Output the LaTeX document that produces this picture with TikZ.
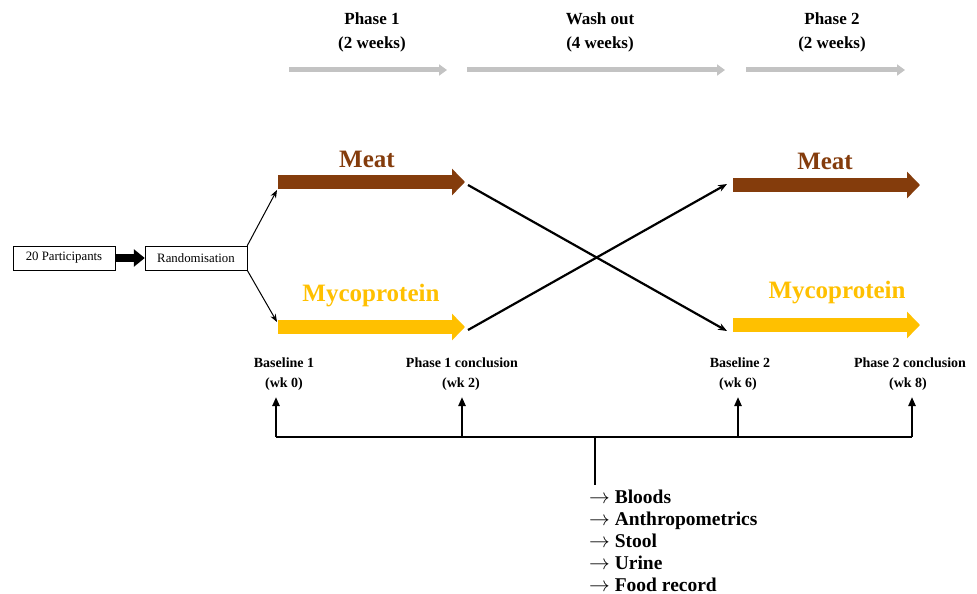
\documentclass[tikz,border=0pt]{standalone}
\usepackage{fontspec}
\setmainfont{Liberation Serif}
\usetikzlibrary{arrows.meta,positioning}
\definecolor{meatbrown}{HTML}{843C0C}
\definecolor{mycogold}{HTML}{FFC000}
\definecolor{phasegrey}{HTML}{C3C3C3}

\begin{document}
\begin{tikzpicture}[x=1pt, y=-1pt,
    box/.style={draw, rectangle, minimum width=102pt, minimum height=24pt, inner sep=0pt, font=\fontsize{12.8}{14}\selectfont},
    phase/.style={align=center, font=\fontsize{17}{24}\selectfont\bfseries},
    arm/.style={font=\fontsize{25}{28}\selectfont\bfseries},
    point/.style={font=\fontsize{14}{16}\selectfont\bfseries},
    period/.style={-{Triangle[length=8pt, width=11pt]}, line width=5pt, draw=phasegrey},
    bar/.style={-{Triangle[length=13pt, width=26pt]}, line width=14pt},
    edge/.style={-{Stealth[length=8pt, width=6pt]}, line width=1pt},
    cross/.style={-{Stealth[length=9pt, width=7pt]}, line width=2.2pt},
    tick/.style={-{Triangle[length=9pt, width=7pt]}, line width=2.2pt},
    rail/.style={line width=2.5pt},
]
\useasboundingbox (0,0) rectangle (977,594);

% Phases along the top
\node[phase] (ph1) at (372,32) {Phase 1\\(2 weeks)};
\node[phase] (wash) at (600,32) {Wash out\\(4 weeks)};
\node[phase] (ph2) at (832,32) {Phase 2\\(2 weeks)};

\coordinate (ph1-s) at (289,70);
\coordinate (ph1-e) at (447,70);
\coordinate (wash-s) at (467,70);
\coordinate (wash-e) at (725,70);
\coordinate (ph2-s) at (746,70);
\coordinate (ph2-e) at (905,70);
\draw[period] (ph1-s) -- (ph1-e);
\draw[period] (wash-s) -- (wash-e);
\draw[period] (ph2-s) -- (ph2-e);

% Participants and randomisation
\node[box] (part) at (64,258) {20 Participants};
\node[box] (rand) at (196,258) {Randomisation};
\draw[-{Triangle[length=11pt, width=17pt]}, line width=8pt] (part) -- (rand);

% Arms, phase 1
\node[arm, text=meatbrown] (meatA) at (367,159) {Meat};
\node[arm, text=mycogold] (mycoA) at (371,296) {Mycoprotein};
\coordinate (meatA-s) at (278,182);
\coordinate (meatA-e) at (465,182);
\coordinate (mycoA-s) at (278,327);
\coordinate (mycoA-e) at (465,327);
\draw[bar, draw=meatbrown, fill=meatbrown] (meatA-s) -- (meatA-e);
\draw[bar, draw=mycogold, fill=mycogold] (mycoA-s) -- (mycoA-e);

% Arms, phase 2
\node[arm, text=meatbrown] (meatB) at (825,161) {Meat};
\node[arm, text=mycogold] (mycoB) at (837,293) {Mycoprotein};
\coordinate (meatB-s) at (733,185);
\coordinate (meatB-e) at (920,185);
\coordinate (mycoB-s) at (733,325);
\coordinate (mycoB-e) at (920,325);
\draw[bar, draw=meatbrown, fill=meatbrown] (meatB-s) -- (meatB-e);
\draw[bar, draw=mycogold, fill=mycogold] (mycoB-s) -- (mycoB-e);

% Randomisation to arms
\coordinate (meatA-in) at (277,190);
\coordinate (mycoA-in) at (277,322);
\draw[edge] (rand.north east) -- (meatA-in);
\draw[edge] (rand.south east) -- (mycoA-in);

% Crossover
\coordinate (xA) at (468,185);
\coordinate (xB) at (468,330);
\coordinate (xC) at (727,331);
\coordinate (xD) at (727,184);
\draw[cross] (xA) -- (xC);
\draw[cross] (xB) -- (xD);

% Time points
\node[point] (bl1) at (284,363) {Baseline 1};
\node[point] (wk0) at (284,384) {(wk 0)};
\node[point] (pc1) at (462,363) {Phase 1 conclusion};
\node[point] (wk2) at (461,384) {(wk 2)};
\node[point] (bl2) at (740,363) {Baseline 2};
\node[point] (wk6) at (738,384) {(wk 6)};
\node[point] (pc2) at (910,363) {Phase 2 conclusion};
\node[point] (wk8) at (908,384) {(wk 8)};

\coordinate (t1) at (276,437);
\coordinate (t2) at (462,437);
\coordinate (t3) at (738,437);
\coordinate (t4) at (912,437);
\coordinate (hub) at (595,437);
\coordinate (stem) at (595,485);
\draw[rail] (t1) -- (t4);
\draw[rail] (hub) -- (stem);
\draw[tick] (t1) -- (276,397);
\draw[tick] (t2) -- (462,397);
\draw[tick] (t3) -- (738,397);
\draw[tick] (t4) -- (912,397);

% Measurements
\node[anchor=north west, align=left, inner sep=0pt, font=\fontsize{19.5}{22}\selectfont\bfseries] (meas) at (589,490) {%
  $\rightarrow$ Bloods\\
  $\rightarrow$ Anthropometrics\\
  $\rightarrow$ Stool\\
  $\rightarrow$ Urine\\
  $\rightarrow$ Food record};

\end{tikzpicture}
\end{document}
